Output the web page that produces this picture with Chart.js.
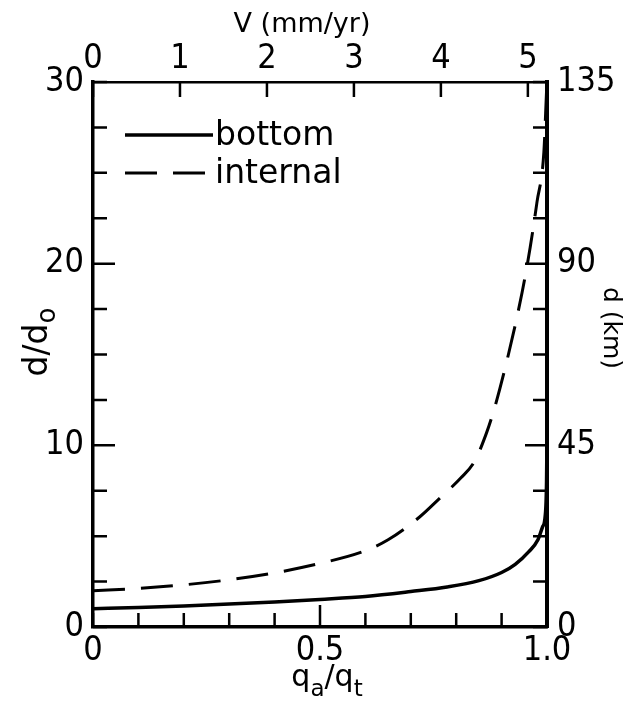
<!DOCTYPE html>
<html>
<head>
<meta charset="utf-8">
<script src="https://cdn.jsdelivr.net/npm/chart.js@4.4.1/dist/chart.umd.min.js"></script>
<style>
html, body { margin: 0; padding: 0; background: #fff; }
</style>
</head>
<body>
<canvas id="depthChart" width="633" height="703"></canvas>
<script>
// curves: q_a/q_t against d/d0
const bottomQ = [0, 0.1, 0.2, 0.3, 0.4, 0.5, 0.6, 0.7, 0.78, 0.85, 0.9, 0.93, 0.96, 0.98, 0.99, 0.996, 0.999, 1.0];
const bottomD = [1.0, 1.08, 1.16, 1.26, 1.38, 1.52, 1.68, 1.95, 2.2, 2.55, 3.0, 3.45, 4.15, 4.8, 5.5, 6.1, 8.0, 10.5];
const internalQ = [0, 0.1, 0.2, 0.3, 0.4, 0.5, 0.6, 0.65, 0.72, 0.76, 0.81, 0.84, 0.867, 0.885, 0.915, 0.945, 0.963, 0.978, 0.993, 0.999];
const internalD = [2.0, 2.12, 2.32, 2.6, 2.98, 3.5, 4.2, 4.8, 6.07, 7.0, 8.2, 9.1, 10.7, 12.1, 15.0, 18.4, 20.9, 23.4, 26.1, 29.5];
const seriesNames = ["bottom", "internal"];

// axes
const qTicks = [0, 0.1, 0.2, 0.3, 0.4, 0.5, 0.6, 0.7, 0.8, 0.9, 1.0];
const qTickLabels = ["0", "", "", "", "", "0.5", "", "", "", "", "1.0"];
const vTicks = [0, 1, 2, 3, 4, 5];
const vTickLabels = ["0", "1", "2", "3", "4", "5"];
const vMax = 5.22;
const dd0Ticks = [0, 2.5, 5, 7.5, 10, 12.5, 15, 17.5, 20, 22.5, 25, 27.5, 30];
const dd0TickLabels = ["0", "", "", "", "10", "", "", "", "20", "", "", "", "30"];
const kmTicks = [0, 11.25, 22.5, 33.75, 45, 56.25, 67.5, 78.75, 90, 101.25, 112.5, 123.75, 135];
const kmTickLabels = ["0", "", "", "", "45", "", "", "", "90", "", "", "", "135"];

const FONT = "DejaVu Sans";
const tickFont = { family: "'DejaVu Sans Condensed', 'DejaVu Sans'", size: 34 };

function pts(xs, ys) {
    return xs.map((x, i) => ({ x: x, y: ys[i] }));
}

function setTicks(values) {
    return scale => { scale.ticks = values.map(v => ({ value: v })); };
}

// ticks point into the plot, long ones where there is a label
const inwardTicks = {
    id: "inwardTicks",
    afterDraw(chart) {
        const ctx = chart.ctx;
        const a = chart.chartArea;
        const s = chart.scales;
        ctx.save();
        ctx.strokeStyle = "#000";
        ctx.lineWidth = 2.5;
        ctx.beginPath();
        qTicks.forEach((v, i) => {
            const px = s.x.getPixelForValue(v);
            const len = (i > 0 && i < qTicks.length - 1 && qTickLabels[i]) ? 22 : 14;
            ctx.moveTo(px, a.bottom); ctx.lineTo(px, a.bottom - len);
        });
        vTicks.forEach(v => {
            const px = s.x2.getPixelForValue(v);
            ctx.moveTo(px, a.top); ctx.lineTo(px, a.top + 15);
        });
        dd0Ticks.forEach((v, i) => {
            const py = s.y.getPixelForValue(v);
            const len = (i > 0 && i < dd0Ticks.length - 1 && dd0TickLabels[i]) ? 22 : 14;
            ctx.moveTo(a.left, py); ctx.lineTo(a.left + len, py);
        });
        kmTicks.forEach((v, i) => {
            const py = s.y2.getPixelForValue(v);
            const len = (i > 0 && i < kmTicks.length - 1 && kmTickLabels[i]) ? 22 : 14;
            ctx.moveTo(a.right, py); ctx.lineTo(a.right - len, py);
        });
        ctx.stroke();
        ctx.restore();
    }
};

// key in the upper left corner
const keyBox = {
    id: "keyBox",
    afterDraw(chart) {
        const ctx = chart.ctx;
        const a = chart.chartArea;
        ctx.save();
        ctx.font = "33px '" + FONT + "'";
        ctx.fillStyle = "#000";
        ctx.textBaseline = "alphabetic";
        chart.data.datasets.forEach((ds, i) => {
            const y = a.top + 53 + i * 38;
            ctx.strokeStyle = "#000";
            ctx.lineWidth = ds.borderWidth;
            ctx.setLineDash(ds.borderDash || []);
            ctx.beginPath();
            ctx.moveTo(a.left + 32, y);
            ctx.lineTo(a.left + 120, y);
            ctx.stroke();
            ctx.fillText(ds.label, a.left + 122, y + 10);
        });
        ctx.restore();
    }
};

// write a run of [text, size, drop] pieces, centred on x
function drawRun(ctx, parts, x, y) {
    let total = 0;
    parts.forEach(p => { ctx.font = p[1] + "px '" + FONT + "'"; total += ctx.measureText(p[0]).width; });
    let cx = x - total / 2;
    parts.forEach(p => {
        ctx.font = p[1] + "px '" + FONT + "'";
        ctx.fillText(p[0], cx, y + p[2]);
        cx += ctx.measureText(p[0]).width;
    });
}

// axis titles
const axisTitles = {
    id: "axisTitles",
    afterDraw(chart) {
        const ctx = chart.ctx;
        ctx.save();
        ctx.fillStyle = "#000";
        ctx.textBaseline = "alphabetic";

        drawRun(ctx, [["V (mm/yr)", 27, 0]], 302, 32);
        drawRun(ctx, [["q", 30, 0], ["a", 23, 10], ["/q", 30, 0], ["t", 23, 10]], 327, 686);

        ctx.translate(47, 342);
        ctx.rotate(-Math.PI / 2);
        drawRun(ctx, [["d/d", 33, 0], ["o", 26, 8]], 0, 0);
        ctx.setTransform(1, 0, 0, 1, 0, 0);

        ctx.translate(604, 328);
        ctx.rotate(Math.PI / 2);
        drawRun(ctx, [["d (km)", 25, 0]], 0, 0);
        ctx.restore();
    }
};

new Chart(document.getElementById("depthChart"), {
    type: "line",
    data: {
        datasets: [{
            label: seriesNames[0],
            data: pts(bottomQ, bottomD),
            borderColor: "#000",
            borderWidth: 3.5,
            pointRadius: 0,
            fill: false,
            cubicInterpolationMode: "monotone",
            xAxisID: "x",
            yAxisID: "y"
        }, {
            label: seriesNames[1],
            data: pts(internalQ, internalD),
            borderColor: "#000",
            borderWidth: 3,
            borderDash: [32, 16],
            pointRadius: 0,
            fill: false,
            cubicInterpolationMode: "monotone",
            xAxisID: "x",
            yAxisID: "y"
        }]
    },
    options: {
        responsive: false,
        animation: false,
        devicePixelRatio: 1,
        layout: { padding: 0 },
        plugins: { legend: { display: false }, tooltip: { enabled: false } },
        scales: {
            x: {
                type: "linear", position: "bottom", min: 0, max: 1,
                afterBuildTicks: setTicks(qTicks),
                afterFit: s => { s.height = 76; },
                grid: { display: false },
                border: { color: "#000", width: 3.5 },
                ticks: { callback: (v, i) => qTickLabels[i], autoSkip: false, maxRotation: 0, padding: -4, color: "#000", font: tickFont }
            },
            x2: {
                type: "linear", position: "top", min: 0, max: vMax,
                afterBuildTicks: setTicks(vTicks),
                afterFit: s => { s.height = 82; },
                grid: { display: false },
                border: { color: "#000", width: 2.5 },
                ticks: { callback: (v, i) => vTickLabels[i], autoSkip: false, maxRotation: 0, padding: -6, color: "#000", font: tickFont }
            },
            y: {
                type: "linear", position: "left", min: 0, max: 30,
                afterBuildTicks: setTicks(dd0Ticks),
                afterFit: s => { s.width = 93; },
                grid: { display: false },
                border: { color: "#000", width: 3.5 },
                ticks: { callback: (v, i) => dd0TickLabels[i], autoSkip: false, padding: 1, color: "#000", font: tickFont }
            },
            y2: {
                type: "linear", position: "right", min: 0, max: 135,
                afterBuildTicks: setTicks(kmTicks),
                afterFit: s => { s.width = 86; },
                grid: { display: false },
                border: { color: "#000", width: 4 },
                ticks: { callback: (v, i) => kmTickLabels[i], autoSkip: false, padding: 2, color: "#000", font: tickFont }
            }
        }
    },
    plugins: [inwardTicks, keyBox, axisTitles]
});
</script>
</body>
</html>
